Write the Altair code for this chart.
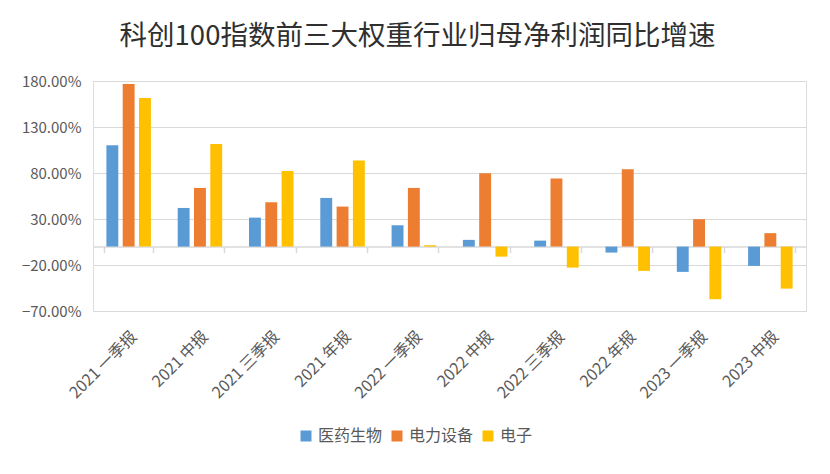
import altair as alt
import pandas as pd

categories = ["2021 一季报", "2021 中报", "2021 三季报", "2021 年报", "2022 一季报",
              "2022 中报", "2022 三季报", "2022 年报", "2023 一季报", "2023 中报"]
series_names = ["医药生物", "电力设备", "电子"]
yiyao = [110.2, 42.0, 31.5, 52.9, 23.2, 7.3, 6.5, -6.5, -27.5, -21.0]
dianli = [176.8, 63.8, 48.2, 43.5, 63.8, 79.7, 73.9, 84.1, 29.8, 14.6]
dianzi = [161.6, 111.6, 82.3, 93.5, 1.5, -10.9, -22.8, -26.4, -57.2, -45.7]
colors = ["#5B9BD5", "#ED7D31", "#FFC000"]
y_ticks = [-70, -20, 30, 80, 130, 180]

rows = []
for name, vals in zip(series_names, [yiyao, dianli, dianzi]):
    for c, v in zip(categories, vals):
        rows.append({"period": c, "series": name, "value": v})
df = pd.DataFrame(rows)

W, H = 713, 230
ymin, ymax = -70, 180
zero_offset = -H * (0 - ymin) / (ymax - ymin)

FONT = "Noto Sans CJK SC"
xscale = alt.Scale(domain=categories, paddingInner=0.314, paddingOuter=0.157)
yscale = alt.Scale(domain=[ymin, ymax], nice=False, zero=False)

bars = alt.Chart(df).mark_bar().encode(
    x=alt.X("period:N", sort=categories, scale=xscale,
            axis=alt.Axis(title=None, orient="bottom", labelAngle=-45, labelFontSize=16,
                          labelColor="#595959", labelFont=FONT, ticks=False, domain=False,
                          labelPadding=17)),
    xOffset=alt.XOffset("series:N", sort=series_names,
                        scale=alt.Scale(paddingInner=0.27, paddingOuter=0.135)),
    y=alt.Y("value:Q", scale=yscale,
            axis=alt.Axis(title=None, values=y_ticks, labelExpr="format(datum.value, '.2f') + '%'",
                          labelFontSize=15, labelColor="#595959", labelFont=FONT,
                          ticks=False, domain=False, grid=True, gridColor="#d9d9d9",
                          gridWidth=1.2, labelPadding=12)),
    color=alt.Color("series:N", sort=series_names,
                    scale=alt.Scale(domain=series_names, range=colors),
                    legend=alt.Legend(title=None, orient="none", direction="horizontal",
                                      legendX=205, legendY=347, symbolType="square",
                                      symbolSize=121, symbolStrokeWidth=0,
                                      labelFontSize=16, labelColor="#595959", labelFont=FONT,
                                      labelOffset=4, columnPadding=6)),
)

zero_axis = alt.Chart(df).mark_rule(opacity=0).encode(
    x=alt.X("period:N", sort=categories, scale=xscale,
            axis=alt.Axis(title=None, orient="bottom", labels=False, ticks=True, tickBand="extent",
                          tickSize=6, tickColor="#d9d9d9", tickWidth=1.5, domain=True,
                          domainColor="#d9d9d9", domainWidth=1.5, offset=zero_offset, grid=False)),
)

chart = alt.layer(bars, zero_axis).resolve_axis(x="independent").properties(
    width=W, height=H,
    autosize=alt.AutoSizeParams(type="none"),
    padding={"left": 85, "top": 73, "right": 16, "bottom": 155},
    title=alt.TitleParams("科创100指数前三大权重行业归母净利润同比增速", fontSize=27.5,
                          font=FONT, fontWeight="normal", color="#2f2f2f", anchor="middle",
                          frame="group", baseline="alphabetic", offset=2, dx=-32),
).configure_view(stroke=None).configure(background="white")

chart.save("out.html", embed_options={"renderer": "svg", "actions": False})
